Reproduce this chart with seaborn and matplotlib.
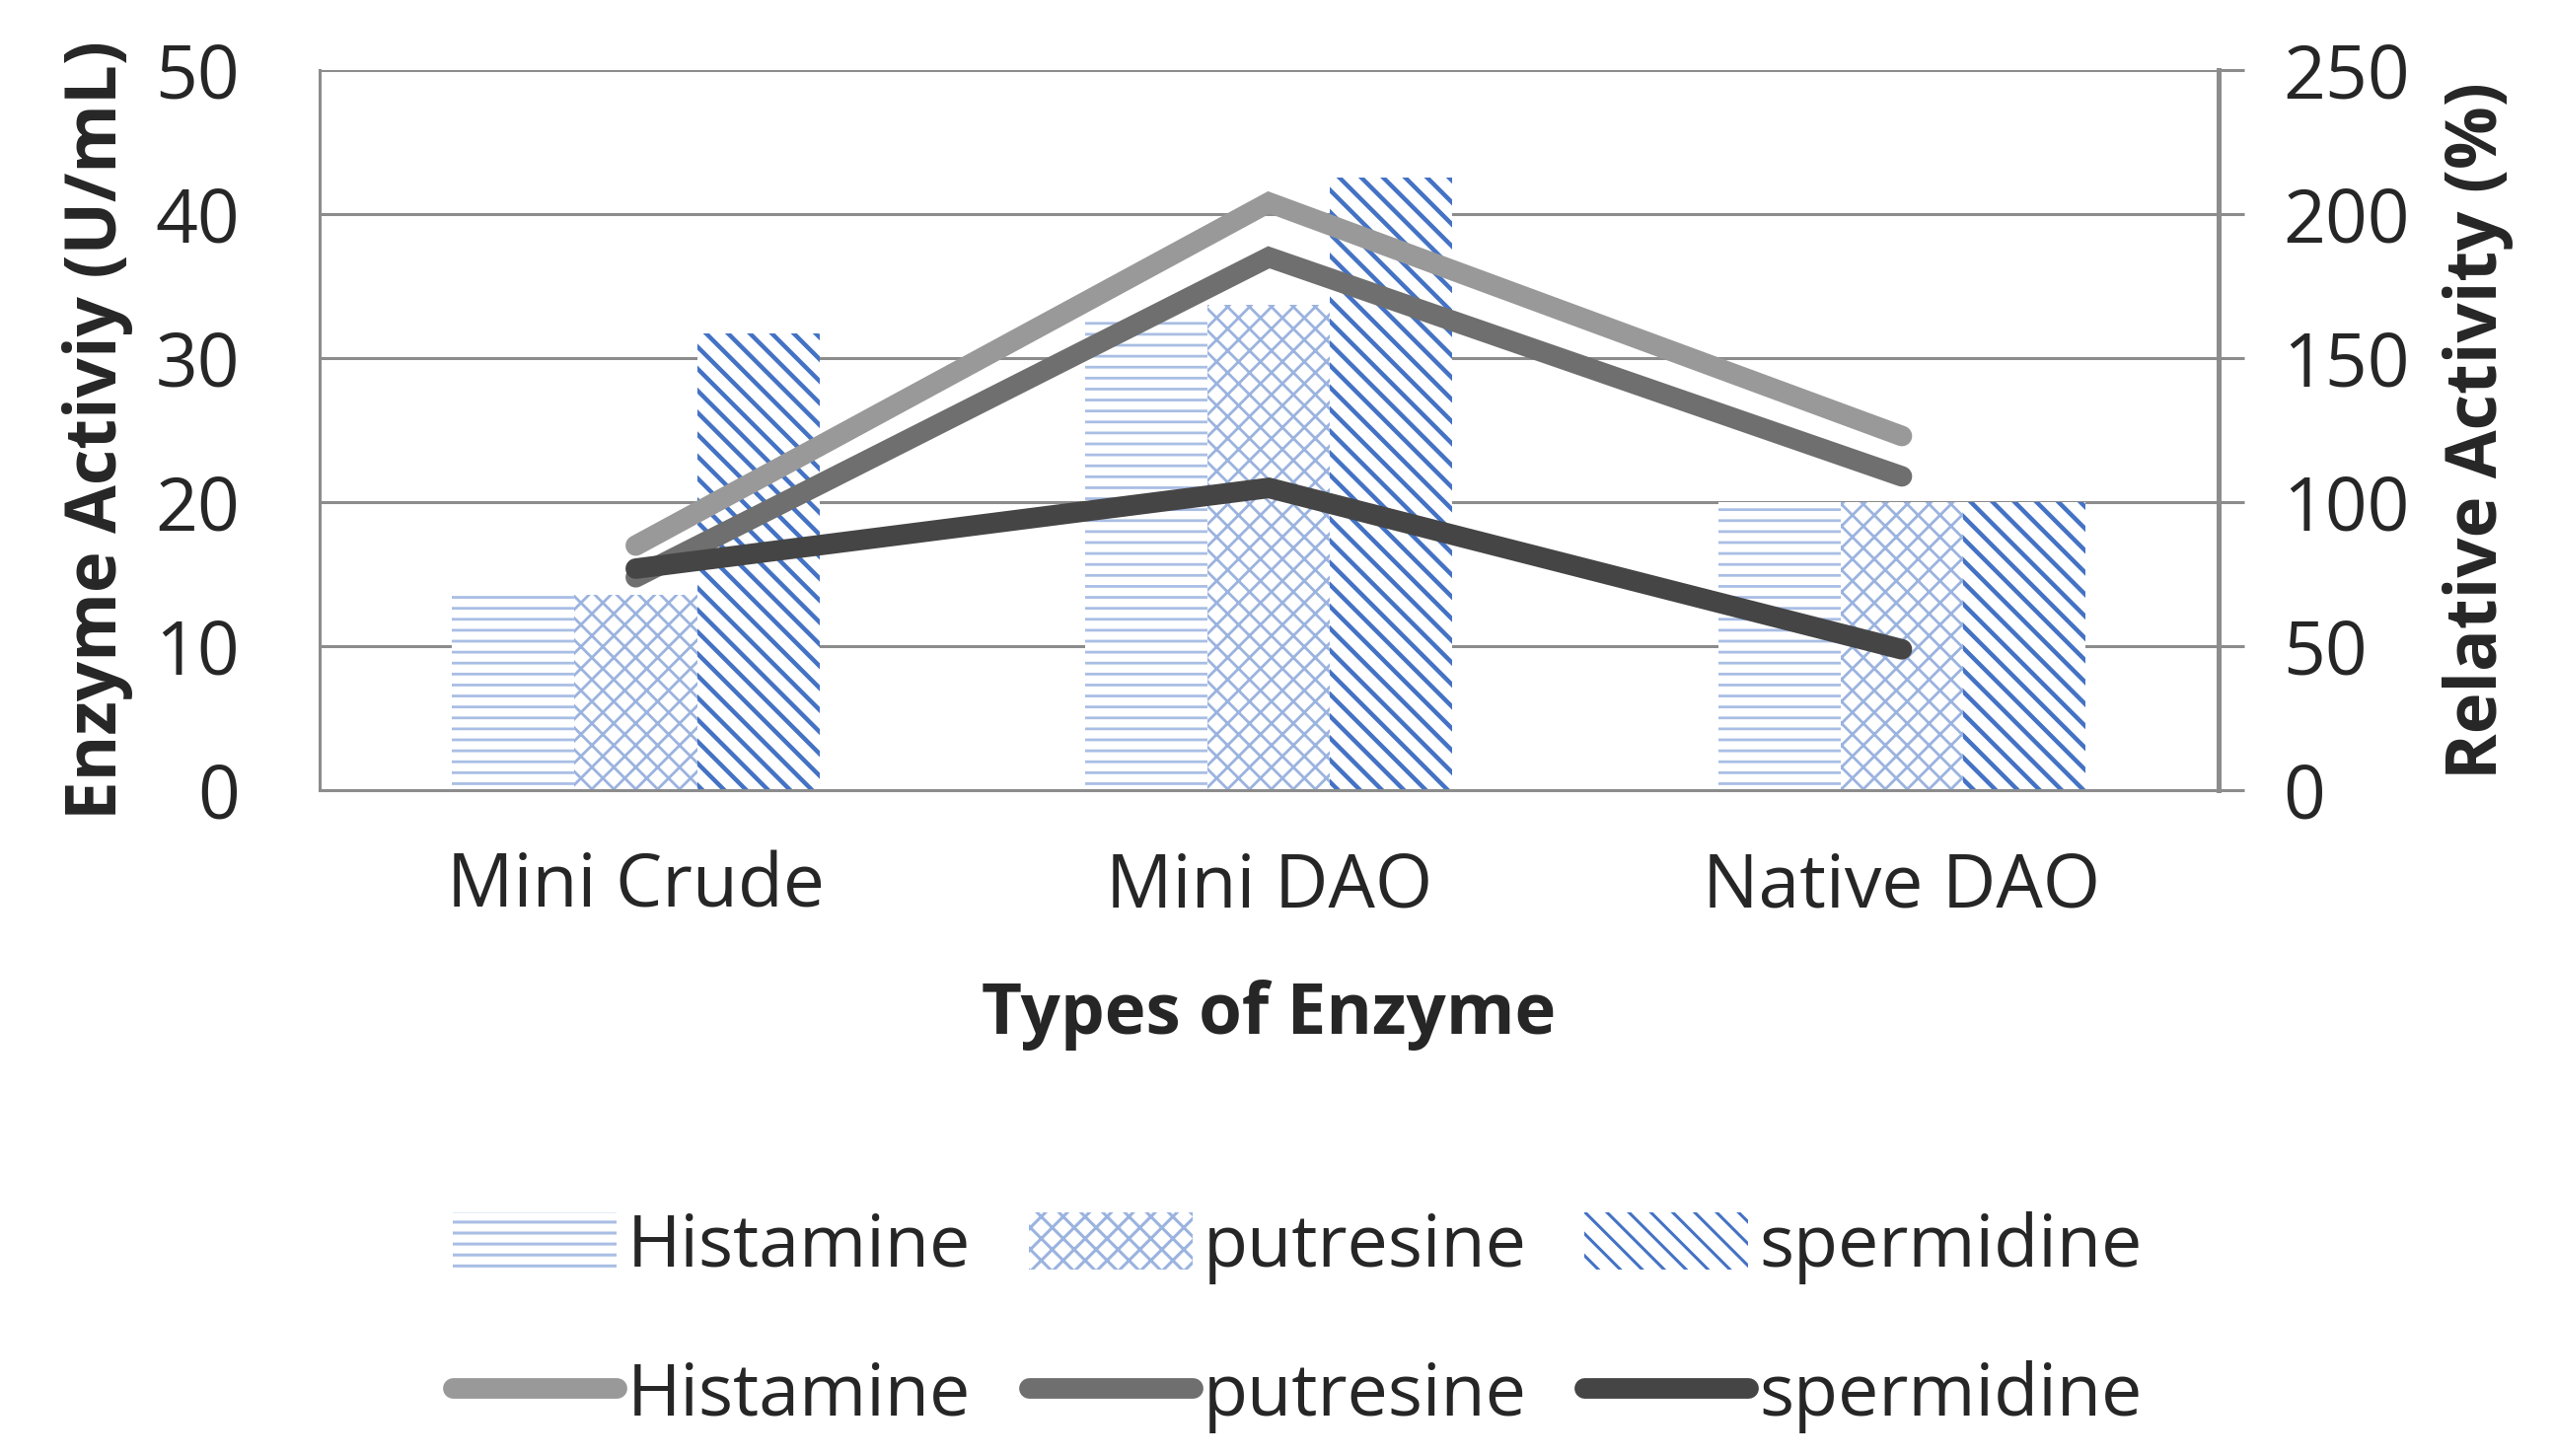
import matplotlib
matplotlib.use("Agg")
import matplotlib.pyplot as plt
import matplotlib.patches as mpatches
from matplotlib.lines import Line2D
import seaborn as sns
import pandas as pd

# ---- data ----
categories = ["Mini Crude", "Mini DAO", "Native DAO"]
substrates = ["Histamine", "putresine", "spermidine"]
activity_histamine = [13.5, 33.0, 20.0]
activity_putresine = [13.6, 33.7, 20.0]
activity_spermidine = [31.7, 42.5, 20.0]
relative_histamine = [85, 204, 123]
relative_putresine = [74, 185, 109]
relative_spermidine = [77, 105, 49]

left_ticks = [0, 10, 20, 30, 40, 50]
right_ticks = [0, 50, 100, 150, 200, 250]

bar_df = pd.DataFrame({
    "Enzyme": categories * 3,
    "Substrate": [s for s in substrates for _ in categories],
    "Activity": activity_histamine + activity_putresine + activity_spermidine,
})
line_df = pd.DataFrame({
    "pos": [categories.index(c) for c in categories] * 3,
    "Substrate": [s for s in substrates for _ in categories],
    "Relative": relative_histamine + relative_putresine + relative_spermidine,
})

# ---- style ----
sns.set_style("white")
plt.rcParams["font.family"] = ["Open Sans", "DejaVu Sans"]
plt.rcParams["hatch.linewidth"] = 1.1

bar_colors = ["#A9BEE4", "#9BB3DF", "#4472C4"]
hatches = ["---", "xxx", "\\\\\\"]
hatch_lws = [1.0, 1.0, 1.6]
line_colors = ["#999999", "#6F6F6F", "#454545"]
grid_color = "#8C8C8C"
FS = 27
FS_T = 25.5
LW = 7.5


def style_hatch(p, col, h, hlw):
    p.set_facecolor("white")
    p.set_edgecolor(col)
    p.set_linewidth(0)
    p.set_hatch(h)
    if hasattr(p, "set_hatch_linewidth"):
        p.set_hatch_linewidth(hlw)


fig = plt.figure(figsize=(12.945, 7.38), dpi=200)
ax = fig.add_axes([0.125, 0.457, 0.8686 - 0.125, 0.952 - 0.457])

sns.barplot(data=bar_df, x="Enzyme", y="Activity", hue="Substrate",
            order=categories, hue_order=substrates, palette=["white"] * 3,
            width=0.58, gap=0, legend=False, ax=ax, saturation=1)
for cont, col, h, hlw in zip(ax.containers, bar_colors, hatches, hatch_lws):
    for p in cont.patches:
        style_hatch(p, col, h, hlw)
        p.set_zorder(2)

ax.set_ylim(0, 50)
ax.set_xlim(-0.5, 2.5)
ax.set_yticks(left_ticks)
ax.set_yticklabels([str(t) for t in left_ticks], fontsize=FS)
ax.tick_params(axis="y", length=0, pad=29)
ax.tick_params(axis="x", length=0, pad=22, labelsize=FS)
ax.yaxis.grid(True, color=grid_color, linewidth=1.1)
ax.set_axisbelow(True)
for s in ["top", "right"]:
    ax.spines[s].set_visible(False)
for s in ["left", "bottom"]:
    ax.spines[s].set_color(grid_color)
    ax.spines[s].set_linewidth(1.1)
ax.set_ylabel("Enzyme Activiy (U/mL)", fontsize=FS_T, fontweight="bold", labelpad=8)
ax.set_xlabel("Types of Enzyme", fontsize=FS_T, fontweight="bold", labelpad=20)

ax2 = ax.twinx()
sns.lineplot(data=line_df, x="pos", y="Relative", hue="Substrate",
             hue_order=substrates, palette=line_colors, linewidth=LW,
             legend=False, ax=ax2, sort=False)
for ln in ax2.lines:
    ln.set_solid_capstyle("round")
    ln.set_solid_joinstyle("miter")
ax2.set_ylim(0, 250)
ax2.set_xlim(-0.5, 2.5)
ax2.set_yticks(right_ticks)
ax2.set_yticklabels([str(t) for t in right_ticks], fontsize=FS)
ax2.tick_params(axis="y", length=9.5, width=1.1, color=grid_color, pad=14,
                direction="out")
for s in ["top", "left", "bottom"]:
    ax2.spines[s].set_visible(False)
ax2.spines["right"].set_color(grid_color)
ax2.spines["right"].set_linewidth(1.8)
ax2.set_ylabel("Relative Activity (%)", fontsize=FS_T, fontweight="bold",
               labelpad=12, rotation=90)
ax2.set_xlabel("")

# ---- legend ----
handles, labels = [], []
for i, s in enumerate(substrates):
    ph = mpatches.Patch()
    style_hatch(ph, bar_colors[i], hatches[i], hatch_lws[i])
    handles.append(ph)
    labels.append(s)
    handles.append(Line2D([0], [0], color=line_colors[i], linewidth=LW,
                          solid_capstyle="round"))
    labels.append(s)
fig.legend(handles, labels, ncol=3, loc="center", bbox_to_anchor=(0.508, 0.092),
           frameon=False, fontsize=26.5, handlelength=2.25, handleheight=0.85,
           handletextpad=0.15, columnspacing=0.8, labelspacing=1.05)

fig.savefig("out.png", dpi=200)
